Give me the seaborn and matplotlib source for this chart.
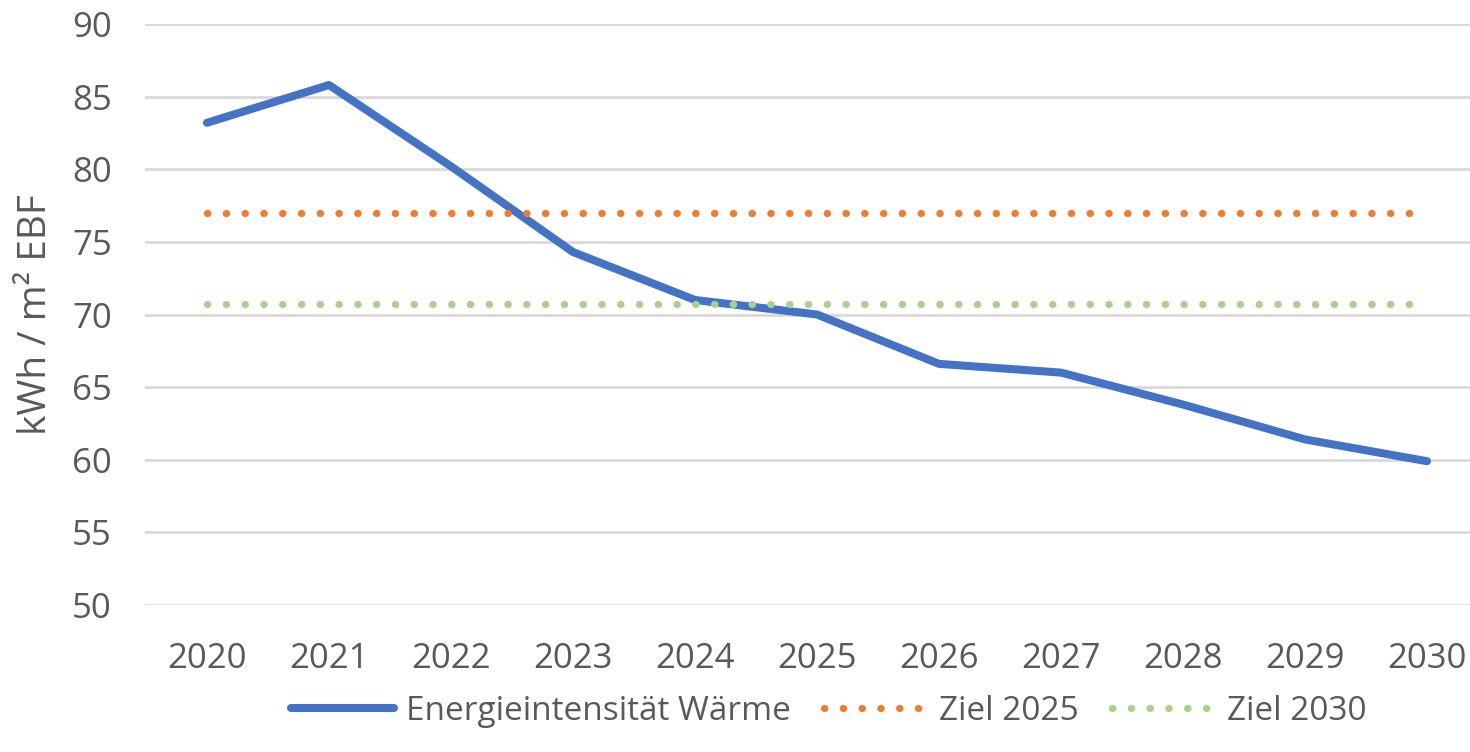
import pandas as pd
import seaborn as sns
import matplotlib.pyplot as plt

# chart values
jahre = ['2020', '2021', '2022', '2023', '2024', '2025', '2026', '2027', '2028', '2029', '2030']
energieintensitaet = [83.2, 85.8, 80.2, 74.3, 71.0, 70.0, 66.6, 66.0, 63.8, 61.4, 59.9]
ziel_2025 = [77.0] * len(jahre)
ziel_2030 = [70.7] * len(jahre)

serien = ['Energieintensität Wärme', 'Ziel 2025', 'Ziel 2030']
farben = {'Energieintensität Wärme': '#4472C4', 'Ziel 2025': '#ED7D31', 'Ziel 2030': '#A9D18E'}

df = pd.DataFrame({
    'Jahr': jahre * 3,
    'Wert': energieintensitaet + ziel_2025 + ziel_2030,
    'Serie': [serien[0]] * len(jahre) + [serien[1]] * len(jahre) + [serien[2]] * len(jahre),
})

sns.set_theme(style='white')
plt.rcParams['font.family'] = ['Open Sans', 'DejaVu Sans']
textfarbe = '#595959'

fig = plt.figure(figsize=(14.7, 7.52), dpi=100)
ax = fig.add_axes([145 / 1470, 1 - 605 / 752, 1325 / 1470, (605 - 24) / 752])

ax.yaxis.grid(True, color='#D9D9D9', linewidth=2)
ax.set_axisbelow(True)

dots = (0.05, 2.55)
sns.lineplot(data=df, x='Jahr', y='Wert', hue='Serie', style='Serie',
             palette=farben, dashes={serien[0]: '', serien[1]: dots, serien[2]: dots},
             linewidth=5.2, ax=ax, sort=False)
for line in ax.lines:
    line.set_solid_capstyle('round')
    line.set_dash_capstyle('round')
ax.lines[0].set_linewidth(5.8)

# category spacing as in the original (2020 at ~207px, 2030 at ~1427px)
ax.set_xlim(-62 / 122, 10 + 43 / 122)
ax.set_ylim(50, 90)
ax.set_yticks(range(50, 91, 5))
for s in ax.spines.values():
    s.set_visible(False)
ax.tick_params(axis='both', length=0, labelsize=25, colors=textfarbe)
ax.tick_params(axis='x', pad=27)
ax.tick_params(axis='y', pad=24)
ax.set_xlabel('')
ax.set_ylabel('kWh / m² EBF', fontsize=28, color=textfarbe, labelpad=12)

handles, labels = ax.get_legend_handles_labels()
for h in handles:
    h.set_linewidth(5.2)
    h.set_dash_capstyle('round')
    h.set_solid_capstyle('round')
handles[0].set_linewidth(5.8)
leg = ax.legend(handles, labels, loc='center', bbox_to_anchor=(0.516, -0.183),
                ncol=3, frameon=False, fontsize=24, handlelength=3.1,
                columnspacing=1.0, handletextpad=0.35)
for t in leg.get_texts():
    t.set_color(textfarbe)

fig.savefig('out.png', dpi=100)
